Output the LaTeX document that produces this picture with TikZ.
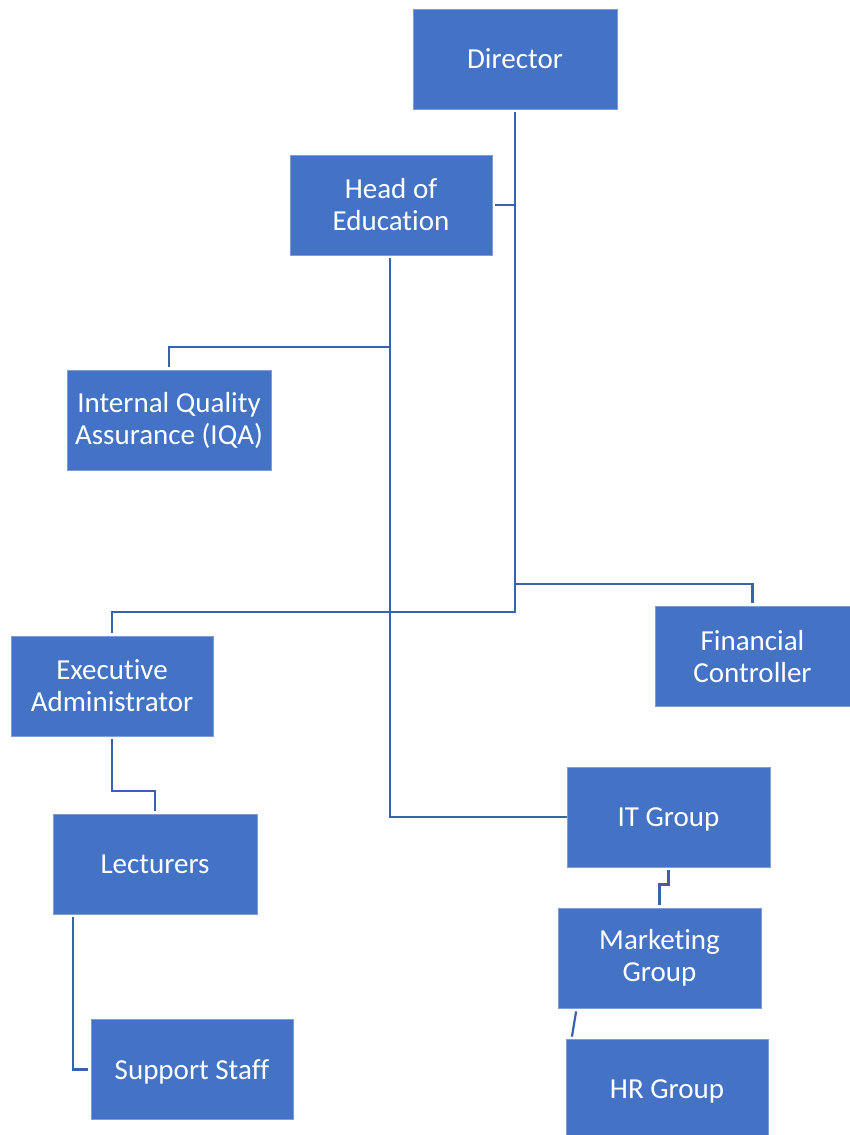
\documentclass[tikz,border=0pt]{standalone}
\usepackage{fontspec}
\setmainfont[Ligatures=NoCommon]{Carlito}
\usetikzlibrary{calc}
\definecolor{boxblue}{HTML}{4472C4}
\definecolor{boxedge}{HTML}{7E9DD6}
\definecolor{linkblue}{HTML}{3A62AC}
\begin{document}
\begin{tikzpicture}[x=1pt,y=-1pt,
  unit/.style={rectangle, fill=boxblue, draw=boxedge, line width=0.8pt,
    minimum width=#1, minimum height=100pt, inner sep=0pt,
    text=white, align=center,
    font=\fontsize{29}{32}\selectfont},
  unit/.default=202pt,
  oneline/.style={text depth=0pt},
  conn/.style={draw=linkblue, line width=2.2pt, line cap=butt, line join=miter},
  gap/.style={shorten >=3pt}]
\useasboundingbox (0,0) rectangle (850,1135);
\clip (0,0) rectangle (850,1135);

% boxes
\node[unit=204pt] (dir)  at (515,59)     {Director};
\node[unit]       (hoe)  at (391,205)    {Head of\\Education};
\node[unit=204pt] (iqa)  at (169,420.5)  {Internal Quality\\Assurance (IQA)};
\node[unit]       (exec) at (112,686)    {Executive\\Administrator};
\node[unit=195pt] (fc)   at (752.5,656.5){Financial\\Controller};
\node[unit=204pt, oneline] (lect) at (155,864)    {Lecturers};
\node[unit, oneline]       (sup)  at (192,1069.5) {Support Staff};
\node[unit=203pt, oneline] (it)   at (668.5,817)  {IT Group};
\node[unit=203pt] (mkt)  at (659.5,958)  {Marketing\\Group};
\node[unit, oneline]       (hr)   at (667,1089)   {HR Group};

% junction points on the trunks
\coordinate (dirdrop) at (515,612);
\coordinate (fcjoin)  at (515,584);
\coordinate (iqajoin) at (390,347);
\coordinate (itturn)  at (390,817);
\coordinate (exjog)   at (112,791);

% Director trunk
\draw[conn, gap, shorten <=3pt] (dir.south) -- (dirdrop) -| (exec.north);
\draw[conn, gap] (dir.south |- hoe.east) -- (hoe.east);
\draw[conn, gap] (fcjoin) -| (fc.north);

% Head of Education trunk
\draw[conn, shorten <=3pt] ([xshift=-1pt]hoe.south) -- (itturn) -- (it.west);
\draw[conn, gap] (iqajoin) -| (iqa.north);

% lower branches
\draw[conn, gap, shorten <=3pt] (exec.south) -- (exjog) -| (lect.north);
\draw[conn, shorten <=3pt, shorten >=3pt] ([xshift=20pt]lect.south west) |- (sup.west);
\draw[conn, gap, shorten <=3pt] (it.south) -- ++(0,17) -| (mkt.north);
\draw[conn, shorten <=3pt, shorten >=2pt] ([xshift=19pt]mkt.south west) -- ([xshift=6pt]hr.north west);
\end{tikzpicture}
\end{document}
